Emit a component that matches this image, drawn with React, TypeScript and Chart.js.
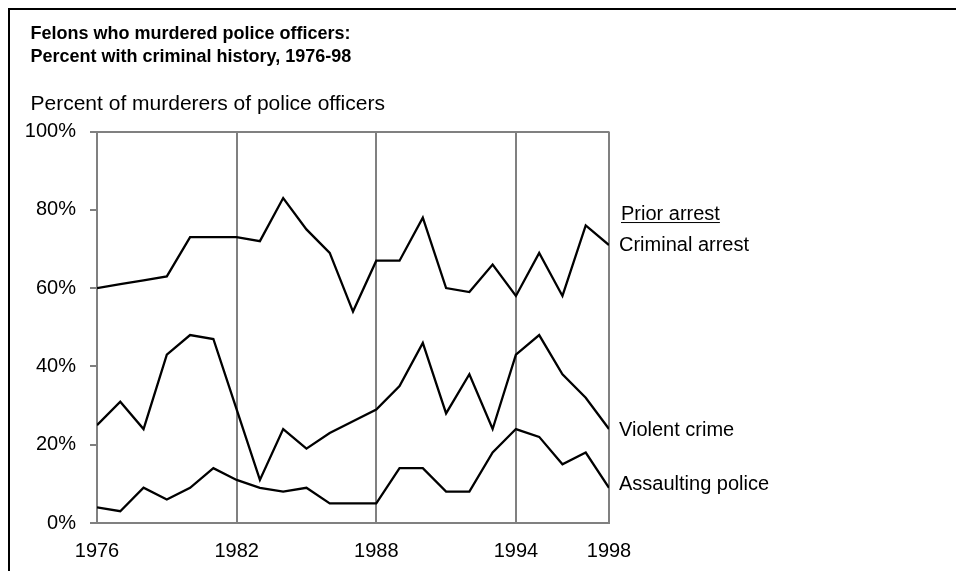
import React, { useEffect, useRef } from 'react';
import { Chart, registerables } from 'chart.js';

Chart.register(...registerables);

const years = [1976, 1977, 1978, 1979, 1980, 1981, 1982, 1983, 1984, 1985, 1986, 1987, 1988, 1989, 1990, 1991, 1992, 1993, 1994, 1995, 1996, 1997, 1998];
const criminalArrest = [60, 61, 62, 63, 73, 73, 73, 72, 83, 75, 69, 54, 67, 67, 78, 60, 59, 66, 58, 69, 58, 76, 71];
const violentCrime = [25, 31, 24, 43, 48, 47, 29, 11, 24, 19, 23, 26, 29, 35, 46, 28, 38, 24, 43, 48, 38, 32, 24];
const assaultingPolice = [4, 3, 9, 6, 9, 14, 11, 9, 8, 9, 5, 5, 5, 14, 14, 8, 8, 18, 24, 22, 15, 18, 9];

const xTickYears = [1976, 1982, 1988, 1994, 1998];
const yTickValues = [0, 20, 40, 60, 80, 100];
const seriesNames = ['Criminal arrest', 'Violent crime', 'Assaulting police'];
const legendHeading = 'Prior arrest';
const titleLines = ['Felons who murdered police officers:', 'Percent with criminal history, 1976-98'];
const subtitleText = 'Percent of murderers of police officers';

const FONT = '"Liberation Sans", Arial, Helvetica, sans-serif';
const labelDy = [0, 1, -3];

const noLabelClip = {
  id: 'noLabelClip',
  beforeDraw(chart: any) {
    Object.values(chart.scales).forEach((s: any) => {
      s._computeLabelArea = () => undefined;
    });
  },
};

const endLabels = {
  id: 'endLabels',
  afterDatasetsDraw(chart: any) {
    const ctx = chart.ctx;
    const x = chart.chartArea.right + 10;
    ctx.save();
    ctx.font = `20px ${FONT}`;
    ctx.fillStyle = '#000';
    ctx.textBaseline = 'middle';
    ctx.textAlign = 'left';
    chart.data.datasets.forEach((ds: any, i: number) => {
      const meta = chart.getDatasetMeta(i);
      const pt = meta.data[meta.data.length - 1];
      ctx.fillText(ds.label, x, pt.y + labelDy[i]);
    });
    const firstMeta = chart.getDatasetMeta(0);
    const firstPt = firstMeta.data[firstMeta.data.length - 1];
    const hy = firstPt.y - 31;
    const hx = x + 2;
    ctx.fillText(legendHeading, hx, hy);
    const w = ctx.measureText(legendHeading).width;
    ctx.fillRect(hx, hy + 8, w, 1);
    ctx.restore();
  },
};

export default function App() {
  const canvasRef = useRef<HTMLCanvasElement | null>(null);

  useEffect(() => {
    if (!canvasRef.current) return;
    Chart.defaults.font.family = FONT;
    Chart.defaults.color = '#000';
    const mk = (vals: number[]) => years.map((yr, i) => ({ x: yr, y: vals[i] }));
    const lineStyle = {
      borderColor: '#000',
      backgroundColor: '#000',
      borderWidth: 2.3,
      pointRadius: 0,
      tension: 0,
      fill: false,
    };
    const chart = new Chart(canvasRef.current, {
      type: 'line',
      data: {
        datasets: [
          { label: seriesNames[0], data: mk(criminalArrest), ...lineStyle },
          { label: seriesNames[1], data: mk(violentCrime), ...lineStyle },
          { label: seriesNames[2], data: mk(assaultingPolice), ...lineStyle },
        ],
      },
      options: {
        animation: false,
        responsive: false,
        devicePixelRatio: 1,
        layout: { padding: { left: 30.5, right: 347, top: 10, bottom: 8 } },
        plugins: {
          legend: { display: false },
          tooltip: { enabled: false },
          title: {
            display: true,
            text: titleLines,
            align: 'start',
            color: '#000',
            font: { size: 18, weight: 'bold', lineHeight: 1.3, family: FONT },
            padding: { top: 12, bottom: 0 },
          },
          subtitle: {
            display: true,
            text: subtitleText,
            align: 'start',
            color: '#000',
            font: { size: 21, lineHeight: 1.2, family: FONT },
            padding: { top: 23.3, bottom: 14.2 },
          },
        },
        scales: {
          x: {
            type: 'linear',
            min: 1976,
            max: 1998,
            afterBuildTicks: (s: any) => {
              s.ticks = xTickYears.map((v) => ({ value: v }));
            },
            afterFit: (s: any) => {
              s.height = 40;
            },
            ticks: {
              callback: (v: any) => String(v),
              color: '#000',
              font: { size: 20, family: FONT },
              padding: 16.4,
              maxRotation: 0,
              autoSkip: false,
            },
            grid: { color: '#808080', lineWidth: 2, drawTicks: false },
            border: { color: '#808080', width: 2 },
          },
          y: {
            min: 0,
            max: 100,
            afterBuildTicks: (s: any) => {
              s.ticks = yTickValues.map((v) => ({ value: v }));
            },
            afterFit: (s: any) => {
              s.width = 66.5;
            },
            ticks: {
              callback: (v: any) => v + '%',
              color: '#000',
              font: { size: 20, family: FONT },
              padding: 14,
            },
            grid: {
              color: (c: any) => (c.tick && c.tick.value === 100 ? '#808080' : 'rgba(0,0,0,0)'),
              lineWidth: 2,
              tickLength: 7,
              tickColor: '#000',
              tickWidth: 1,
            },
            border: { color: '#808080', width: 2 },
          },
        },
      },
      plugins: [noLabelClip, endLabels],
    } as any);
    return () => chart.destroy();
  }, []);

  return (
    <>
      <div
        style={{
          position: 'fixed',
          left: 8,
          top: 8,
          right: 0,
          bottom: 0,
          borderTop: '2px solid #000',
          borderLeft: '2px solid #000',
        }}
      />
      <canvas
        ref={canvasRef}
        width={956}
        height={571}
        style={{ position: 'fixed', left: 0, top: 0, width: 956, height: 571, display: 'block' }}
      />
    </>
  );
}
